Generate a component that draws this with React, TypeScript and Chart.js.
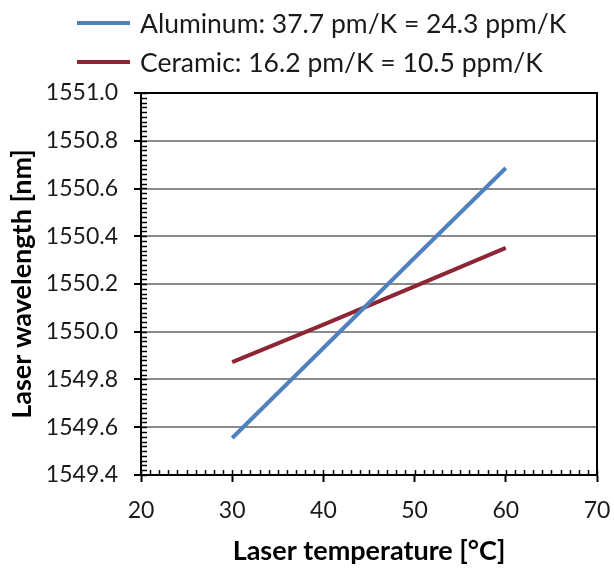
import React, { useEffect, useRef } from "react";
import { Chart, registerables } from "chart.js";

Chart.register(...registerables);

const temperatures = [30, 40, 50, 60];
const aluminumValues = [1549.555, 1549.932, 1550.31, 1550.686];
const ceramicValues = [1549.873, 1550.03, 1550.19, 1550.351];
const seriesLabels = [
  "Aluminum: 37.7 pm/K = 24.3 ppm/K",
  "Ceramic: 16.2 pm/K = 10.5 ppm/K",
];
const seriesColors = ["#4f81bd", "#8c2534"];
const xRange = [20, 70];
const xStep = 10;
const xMinorStep = 1;
const yRange = [1549.4, 1551.0];
const yStep = 0.2;
const yMinorStep = 0.02;
const xTitle = "Laser temperature [°C]";
const yTitle = "Laser wavelength [nm]";

const FONT = "Lato, 'Open Sans', sans-serif";

const decorPlugin = {
  id: "decor",
  afterDatasetsDraw(chart: any) {
    const { ctx, chartArea, scales } = chart;
    const xs = scales.x;
    const ys = scales.y;
    ctx.save();
    ctx.strokeStyle = "#000";
    ctx.lineWidth = 1.5;
    const nx = Math.round((xRange[1] - xRange[0]) / xMinorStep);
    for (let i = 0; i <= nx; i++) {
      const v = xRange[0] + i * xMinorStep;
      const px = Math.round(xs.getPixelForValue(v)) + 0.5;
      ctx.beginPath();
      ctx.moveTo(px, chartArea.bottom);
      ctx.lineTo(px, chartArea.bottom - 5);
      ctx.stroke();
    }
    const ny = Math.round((yRange[1] - yRange[0]) / yMinorStep);
    for (let i = 0; i <= ny; i++) {
      const v = yRange[0] + i * yMinorStep;
      const py = Math.round(ys.getPixelForValue(v)) + 0.5;
      ctx.beginPath();
      ctx.moveTo(chartArea.left, py);
      ctx.lineTo(chartArea.left + 6, py);
      ctx.stroke();
    }
    ctx.lineWidth = 2;
    ctx.beginPath();
    ctx.moveTo(chartArea.left, chartArea.top);
    ctx.lineTo(chartArea.right, chartArea.top);
    ctx.lineTo(chartArea.right, chartArea.bottom);
    ctx.stroke();
    ctx.restore();
  },
  afterDraw(chart: any) {
    const { ctx } = chart;
    ctx.save();
    ctx.font = `26.5px ${FONT}`;
    ctx.textBaseline = "middle";
    ctx.textAlign = "left";
    chart.data.datasets.forEach((ds: any, i: number) => {
      const y = 23 + i * 39;
      ctx.strokeStyle = ds.borderColor;
      ctx.lineWidth = 4;
      ctx.beginPath();
      ctx.moveTo(77, y);
      ctx.lineTo(130, y);
      ctx.stroke();
      ctx.fillStyle = "#1a1a1a";
      ctx.fillText(ds.label, 140, y + 1);
    });
    ctx.restore();
  },
};

export default function App() {
  const ref = useRef<HTMLCanvasElement | null>(null);

  useEffect(() => {
    if (!ref.current) return;
    const chart = new Chart(ref.current, {
      type: "line",
      data: {
        datasets: [
          {
            label: seriesLabels[0],
            data: temperatures.map((t, i) => ({ x: t, y: aluminumValues[i] })),
            borderColor: seriesColors[0],
            backgroundColor: seriesColors[0],
            borderWidth: 4,
            pointRadius: 0,
            tension: 0,
          },
          {
            label: seriesLabels[1],
            data: temperatures.map((t, i) => ({ x: t, y: ceramicValues[i] })),
            borderColor: seriesColors[1],
            backgroundColor: seriesColors[1],
            borderWidth: 4,
            pointRadius: 0,
            tension: 0,
          },
        ],
      },
      options: {
        animation: false,
        responsive: false,
        layout: { padding: { top: 93, right: 17, left: 0, bottom: 0 } },
        plugins: {
          legend: { display: false },
          tooltip: { enabled: false },
        },
        scales: {
          x: {
            type: "linear",
            min: xRange[0],
            max: xRange[1],
            afterFit(scale: any) {
              scale.height = 93;
              scale.paddingLeft = 0;
              scale.paddingRight = 0;
            },
            ticks: {
              stepSize: xStep,
              color: "#1a1a1a",
              font: { family: FONT, size: 23 },
              padding: 15,
              maxRotation: 0,
            },
            grid: {
              drawOnChartArea: false,
              drawTicks: true,
              tickLength: 7,
              tickColor: "#000",
              tickWidth: 2,
            },
            border: { display: true, color: "#000", width: 2 },
            title: {
              display: true,
              text: xTitle,
              color: "#000",
              font: { family: FONT, size: 27, weight: "bold" },
              padding: { top: 0, bottom: 1 },
            },
          },
          y: {
            type: "linear",
            min: yRange[0],
            max: yRange[1],
            afterFit(scale: any) {
              scale.width = 141;
              scale.paddingTop = 0;
              scale.paddingBottom = 0;
            },
            ticks: {
              stepSize: yStep,
              color: "#1a1a1a",
              font: { family: FONT, size: 23 },
              padding: 16,
              callback: (v: any) => Number(v).toFixed(1),
            },
            grid: {
              drawOnChartArea: true,
              color: "#8a8a8a",
              lineWidth: 2,
              drawTicks: true,
              tickLength: 7,
              tickColor: "#000",
              tickWidth: 2,
            },
            border: { display: true, color: "#000", width: 2 },
            title: {
              display: true,
              text: yTitle,
              color: "#000",
              font: { family: FONT, size: 27, weight: "bold" },
              padding: { top: 6, bottom: 0 },
            },
          },
        },
      },
      plugins: [decorPlugin],
    } as any);
    return () => chart.destroy();
  }, []);

  return (
    <div style={{ position: "fixed", left: 0, top: 0, width: 614, height: 568, background: "#fff" }}>
      <canvas ref={ref} width={614} height={568} style={{ width: 614, height: 568, display: "block" }} />
    </div>
  );
}
